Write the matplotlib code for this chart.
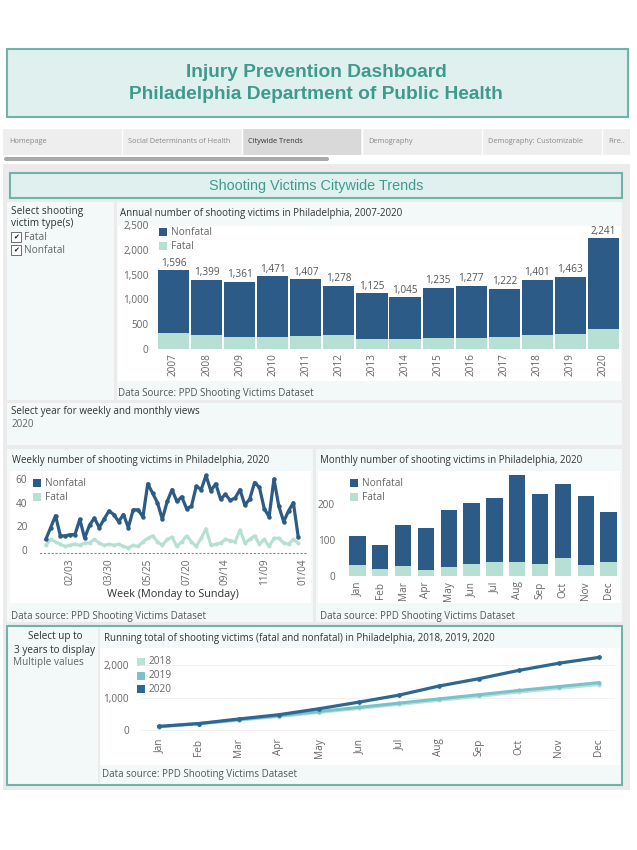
import numpy as np
import matplotlib.pyplot as plt
from matplotlib.patches import Rectangle, FancyBboxPatch

plt.rcParams['font.family'] = ['Open Sans', 'DejaVu Sans']

years = [2007, 2008, 2009, 2010, 2011, 2012, 2013, 2014, 2015, 2016, 2017, 2018, 2019, 2020]
annual_total = [1596, 1399, 1361, 1471, 1407, 1278, 1125, 1045, 1235, 1277, 1222, 1401, 1463, 2241]
annual_fatal = [329, 275, 242, 242, 262, 275, 195, 195, 221, 228, 248, 282, 302, 403]

weekly_nonfatal = [9, 19, 29, 12, 12, 13, 13, 26, 10, 21, 27, 19, 26, 33, 30, 24, 30, 19,
                   34, 34, 28, 56, 48, 40, 26, 41, 51, 41, 45, 35, 37, 54, 51, 63, 50, 56,
                   43, 47, 42, 44, 51, 38, 43, 57, 53, 35, 28, 60, 37, 24, 33, 40, 11]
weekly_fatal = [4, 9, 7, 5, 3, 4, 5, 4, 6, 6, 9, 6, 4, 5, 4, 5, 3, 2, 4, 3, 7, 10, 12, 7,
                4, 9, 11, 3, 7, 12, 7, 3, 10, 18, 4, 5, 6, 9, 8, 7, 17, 6, 9, 12, 5, 9, 3,
                10, 10, 6, 5, 9, 6]
week_tick_pos = [5, 13, 21, 29, 37, 45, 53]
week_tick_labels = ['02/03', '03/30', '05/25', '07/20', '09/14', '11/09', '01/04']

months = ['Jan', 'Feb', 'Mar', 'Apr', 'May', 'Jun', 'Jul', 'Aug', 'Sep', 'Oct', 'Nov', 'Dec']
monthly_total = [112, 87, 141, 132, 184, 204, 216, 281, 227, 257, 221, 179]
monthly_fatal = [30, 20, 29, 16, 24, 34, 38, 39, 34, 49, 31, 38]

running_2018 = [95, 185, 300, 415, 540, 665, 790, 915, 1040, 1170, 1285, 1401]
running_2019 = [105, 200, 320, 440, 570, 700, 830, 960, 1090, 1220, 1340, 1463]
running_2020 = [112, 199, 340, 472, 656, 860, 1076, 1357, 1584, 1841, 2062, 2241]

tabs = ['Homepage', 'Social Determinants of Health', 'Citywide Trends', 'Demography',
        'Demography: Customizable', 'Fire..']

# ---- colours ----
NONFATAL = '#2b5b86'
FATAL = '#b5e0d3'
C2018 = '#b9e3d8'
C2019 = '#7cc0c9'
C2020 = '#2d6792'
TEAL = '#3f9a8e'
BORDER = '#6fb3a9'
PANEL = '#f3f8f9'
GREY = '#ebebeb'
TXT = '#333333'
TICK = '#666666'
SRC = '#555555'

FS = 7.0      # titles / notes
TFS = 7.2     # tick labels

W, H = 637, 850
fig = plt.figure(figsize=(W / 100, H / 100), dpi=100)
fig.patch.set_facecolor('white')

bg = fig.add_axes([0, 0, 1, 1])
bg.set_xlim(0, W)
bg.set_ylim(H, 0)
bg.axis('off')


def box(x0, y0, x1, y1, fc, ec='none', lw=0):
    bg.add_patch(Rectangle((x0, y0), x1 - x0, y1 - y0, facecolor=fc, edgecolor=ec, linewidth=lw))


def label(x, y, s, size=FS, color=TXT, **kw):
    bg.text(x, y, s, fontsize=size, color=color, va='center', **kw)


def legend(x, y, items, dy=14, size=7.3):
    for i, (name, col) in enumerate(items):
        box(x, y + i * dy - 4, x + 8, y + i * dy + 4, col)
        label(x + 12, y + i * dy, name, size=size, color=TICK)


def px_axes(x0, y0, x1, y1):
    return fig.add_axes([x0 / W, 1 - y1 / H, (x1 - x0) / W, (y1 - y0) / H])


def style(ax):
    ax.set_facecolor('none')
    for s in ax.spines.values():
        s.set_visible(False)
    ax.tick_params(length=0, labelsize=TFS, labelcolor=TICK, pad=4)


# header
box(7, 49, 628, 117, '#e0f0ee', BORDER, 1.5)
bg.text(316, 72, 'Injury Prevention Dashboard', fontsize=13.8, fontweight='bold', color=TEAL,
        ha='center', va='center', family='Liberation Sans')
bg.text(316, 94, 'Philadelphia Department of Public Health', fontsize=13.8, fontweight='bold',
        color=TEAL, ha='center', va='center', family='Liberation Sans')

# tabs
box(3, 129, 630, 155, '#eeeeee')
tab_x = [3, 122, 242, 362, 482, 602]
for i, t in enumerate(tabs):
    if i == 2:
        box(tab_x[i], 129, tab_x[i] + 119, 155, '#d9d9d9')
    if i > 0:
        bg.plot([tab_x[i], tab_x[i]], [129, 155], color='white', lw=1)
    label(tab_x[i] + 6, 141, t, size=5.3, color='#333333' if i == 2 else '#888888')
bg.add_patch(FancyBboxPatch((4, 157), 325, 4, boxstyle='round,pad=0,rounding_size=2',
                            facecolor='#aaaaaa', edgecolor='none'))

# main grey area
box(3, 164, 630, 790, GREY)
box(10, 173, 622, 198, '#e0f0ee', BORDER, 1.5)
bg.text(316, 185.5, 'Shooting Victims Citywide Trends', fontsize=10.4, color=TEAL,
        ha='center', va='center', family='Liberation Sans')

# filter panel + annual panel
box(7, 202, 114, 400, PANEL)
label(11, 211, 'Select shooting', size=7.3)
label(11, 223, 'victim type(s)', size=7.3)
for i, name in enumerate(['Fatal', 'Nonfatal']):
    yy = 237 + i * 13
    box(11, yy - 5, 21, yy + 5, 'white', '#555555', 0.6)
    bg.text(16, yy, '✔', fontsize=5, color='#111111', ha='center', va='center', family='DejaVu Sans')
    label(24, yy, name, size=7.3, color=TICK)

box(117, 202, 622, 400, PANEL)
box(118, 226, 621, 381, 'white')
label(120, 213, 'Annual number of shooting victims in Philadelphia, 2007-2020')
label(118, 393, 'Data Source: PPD Shooting Victims Dataset', color=SRC)

ax1 = px_axes(157, 225.25, 620, 349)
style(ax1)
x1 = np.arange(len(years))
nonfatal_a = np.array(annual_total) - np.array(annual_fatal)
ax1.bar(x1, annual_fatal, width=0.94, color=FATAL)
top = ax1.bar(x1, nonfatal_a, bottom=annual_fatal, width=0.94, color=NONFATAL)
ax1.bar_label(top, labels=[f'{v:,}' for v in annual_total], padding=1, fontsize=TFS, color=SRC)
ax1.set_xlim(-0.5, len(years) - 0.5)
ax1.set_ylim(0, 2500)
ax1.set_yticks([0, 500, 1000, 1500, 2000, 2500])
ax1.set_yticklabels(['0', '500', '1,000', '1,500', '2,000', '2,500'])
ax1.set_xticks(x1)
ax1.set_xticklabels([str(y) for y in years], rotation=90)
ax1.tick_params(axis='x', pad=3)
ax1.tick_params(axis='y', pad=6)
legend(159, 232, [('Nonfatal', NONFATAL), ('Fatal', FATAL)])

# year selector
box(7, 403, 622, 445, PANEL)
label(11, 411, 'Select year for weekly and monthly views', size=7.1)
label(11, 424, '2020', size=7.1, color=TICK)

# weekly panel
box(7, 449, 313, 622, PANEL)
box(10, 471, 311, 603, 'white')
label(12, 460, 'Weekly number of shooting victims in Philadelphia, 2020')
label(11, 617, 'Data source: PPD Shooting Victims Dataset', color=SRC)

ax2 = px_axes(40, 470, 306, 553)
style(ax2)
wk = np.arange(len(weekly_nonfatal))
ax2.plot(wk, weekly_fatal, color=FATAL, lw=2.2, marker='o', ms=1.8)
ax2.plot(wk, weekly_nonfatal, color=NONFATAL, lw=2.3, marker='o', ms=2.2)
ax2.set_xlim(-1.2, 53.6)
ax2.set_ylim(-2.5, 67.6)
ax2.set_yticks([0, 20, 40, 60])
ax2.set_xticks(week_tick_pos)
ax2.set_xticklabels(week_tick_labels, rotation=90)
ax2.spines['bottom'].set_visible(True)
ax2.spines['bottom'].set_linestyle((0, (1, 2.5)))
ax2.spines['bottom'].set_color('#888888')
ax2.tick_params(axis='y', pad=9)
ax2.tick_params(axis='x', pad=4)
ax2.set_xlabel('Week (Monday to Sunday)', fontsize=7.8, color=TXT, labelpad=3)
legend(33, 483, [('Nonfatal', NONFATAL), ('Fatal', FATAL)])

# monthly panel
box(316, 449, 622, 622, PANEL)
box(318, 471, 620, 603, 'white')
label(320, 460, 'Monthly number of shooting victims in Philadelphia, 2020')
label(320, 617, 'Data source: PPD Shooting Victims Dataset', color=SRC)

ax3 = px_axes(346, 472, 620, 576)
style(ax3)
xm = np.arange(len(months))
nonfatal_m = np.array(monthly_total) - np.array(monthly_fatal)
ax3.bar(xm, monthly_fatal, width=0.72, color=FATAL)
ax3.bar(xm, nonfatal_m, bottom=monthly_fatal, width=0.72, color=NONFATAL)
ax3.set_xlim(-0.5, 11.5)
ax3.set_ylim(0, 289)
ax3.set_yticks([0, 100, 200])
ax3.set_xticks(xm)
ax3.set_xticklabels(months, rotation=90)
ax3.tick_params(axis='y', pad=8)
legend(350, 483, [('Nonfatal', NONFATAL), ('Fatal', FATAL)])

# running total panel
box(7, 626, 622, 785, PANEL, BORDER, 1.5)
box(98, 628, 100, 783, GREY)
box(100, 648, 620, 765, 'white')
bg.text(55, 637, 'Select up to', fontsize=7.2, color=TXT, ha='center', va='center')
bg.text(55, 650, '3 years to display', fontsize=7.2, color=TXT, ha='center', va='center')
label(13, 663, 'Multiple values', size=7.2, color=TICK)
label(104, 638, 'Running total of shooting victims (fatal and nonfatal) in Philadelphia, 2018, 2019, 2020')
label(102, 774, 'Data source: PPD Shooting Victims Dataset', color=SRC)

ax4 = px_axes(140, 648, 615, 733)
style(ax4)
xr = np.arange(len(months))
ax4.plot(xr, running_2018, color=C2018, lw=2.2, marker='o', ms=2)
ax4.plot(xr, running_2019, color=C2019, lw=2.2, marker='o', ms=2)
ax4.plot(xr, running_2020, color=C2020, lw=2.3, marker='o', ms=2.4)
ax4.set_xlim(-0.475, 11.4)
ax4.set_ylim(-93, 2531)
ax4.set_yticks([0, 1000, 2000])
ax4.set_yticklabels(['0', '1,000', '2,000'])
ax4.grid(axis='y', color='#f0f0f0', lw=0.6)
ax4.set_axisbelow(True)
ax4.set_xticks(xr)
ax4.set_xticklabels(months, rotation=90)
ax4.tick_params(axis='y', pad=8)
legend(137, 662, [('2018', C2018), ('2019', C2019), ('2020', C2020)], dy=13.5)

fig.savefig('out.png', dpi=100)
